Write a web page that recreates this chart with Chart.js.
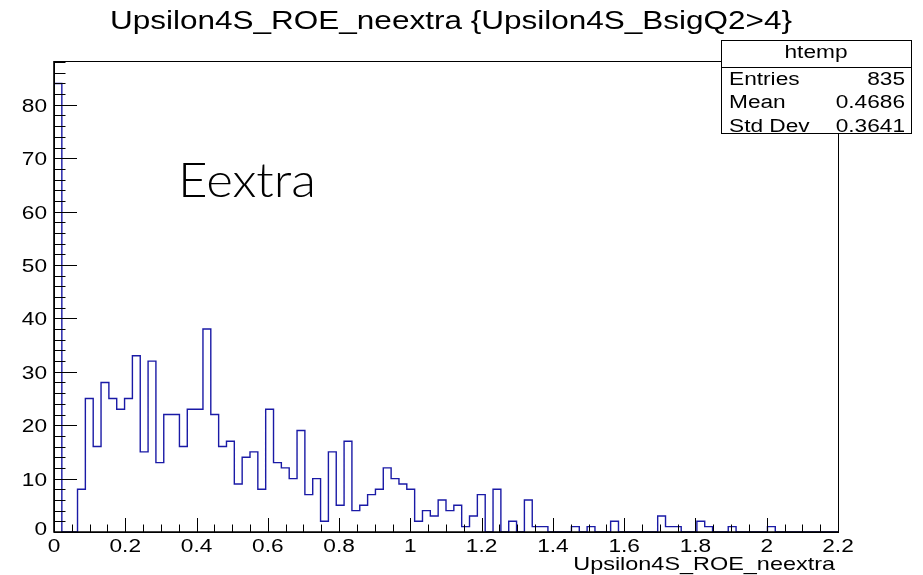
<!DOCTYPE html>
<html>
<head>
<meta charset="utf-8">
<title>Upsilon4S_ROE_neextra</title>
<script src="https://cdn.jsdelivr.net/npm/chart.js@4.4.0/dist/chart.umd.min.js"></script>
<style>
  html, body { margin: 0; padding: 0; background: #fff; }
  canvas { display: block; }
</style>
</head>
<body>
<canvas id="hist" width="923" height="575"></canvas>
<script>
// ---- histogram data (100 bins over [0, 2.2]) ----
const X_MIN = 0;
const X_MAX = 2.2;
const Y_MAX = 88.2;
const BIN_COUNTS = [
  84, 0, 0, 8, 25, 16, 28, 25, 23, 25,
  33, 15, 32, 13, 22, 22, 16, 23, 23, 38,
  22, 16, 17, 9, 14, 15, 8, 23, 13, 12,
  10, 19, 7, 10, 2, 15, 5, 17, 4, 5,
  7, 8, 12, 10, 9, 8, 2, 4, 3, 6,
  4, 5, 1, 3, 7, 0, 8, 0, 2, 0,
  6, 1, 1, 0, 0, 0, 1, 0, 1, 0,
  0, 2, 0, 0, 0, 0, 0, 3, 1, 1,
  0, 0, 2, 1, 0, 0, 1, 0, 0, 0,
  0, 1, 0, 0, 0, 0, 0, 0, 0, 0
];
const X_TICK_LABELS = ['0', '0.2', '0.4', '0.6', '0.8', '1', '1.2', '1.4', '1.6', '1.8', '2', '2.2'];
const Y_TICK_LABELS = ['0', '10', '20', '30', '40', '50', '60', '70', '80'];

const HIST_TITLE = 'Upsilon4S_ROE_neextra {Upsilon4S_BsigQ2>4}';
const X_TITLE = 'Upsilon4S_ROE_neextra';
const NOTE_TEXT = 'Eextra';
const STATS_NAME = 'htemp';
const STATS_ROWS = [
  ['Entries', '835'],
  ['Mean', '0.4686'],
  ['Std Dev', '0.3641']
];

// outline points at bin low edges, drawn as a step line
const binWidth = (X_MAX - X_MIN) / BIN_COUNTS.length;
const outline = [{ x: X_MIN, y: 0 }];
BIN_COUNTS.forEach((c, i) => outline.push({ x: X_MIN + i * binWidth, y: c }));
outline.push({ x: X_MAX, y: BIN_COUNTS[BIN_COUNTS.length - 1] });
outline.push({ x: X_MAX, y: 0 });

// ROOT style text is wider than plain Helvetica
const STRETCH = 1.26;
const FONT_FAMILY = '"Liberation Sans", Arial, Helvetica, sans-serif';

function wideText(ctx, txt, x, y, size, align, sx) {
  ctx.save();
  ctx.font = size + 'px ' + FONT_FAMILY;
  ctx.textAlign = align;
  ctx.textBaseline = 'alphabetic';
  ctx.fillStyle = '#000';
  ctx.translate(x, y);
  ctx.scale(sx || STRETCH, 1);
  ctx.fillText(txt, 0, 0);
  ctx.restore();
}

const rootFrame = {
  id: 'rootFrame',
  afterDraw(chart) {
    const { ctx, chartArea: a } = chart;
    const xs = chart.scales.x;
    const ys = chart.scales.y;

    ctx.save();
    ctx.strokeStyle = '#000';

    // frame
    ctx.lineWidth = 1;
    ctx.strokeRect(a.left + 0.5, a.top + 0.5, a.right - a.left, a.bottom - a.top);

    // axis lines
    ctx.lineWidth = 1.6;
    ctx.beginPath();
    ctx.moveTo(a.left, a.top);
    ctx.lineTo(a.left, a.bottom);
    ctx.lineTo(a.right, a.bottom);
    ctx.stroke();

    // y ticks, pointing inward
    ctx.lineWidth = 1;
    ctx.beginPath();
    for (let v = 0; v <= Y_MAX; v += 2) {
      const py = Math.round(ys.getPixelForValue(v)) + 0.5;
      const len = v % 10 === 0 ? 23 : 11.5;
      ctx.moveTo(a.left, py);
      ctx.lineTo(a.left + len, py);
    }
    // x ticks
    for (let k = 0; k <= 44; k++) {
      const px = Math.round(xs.getPixelForValue(k * 0.05)) + 0.5;
      const len = k % 4 === 0 ? 14 : 7.5;
      ctx.moveTo(px, a.bottom);
      ctx.lineTo(px, a.bottom - len);
    }
    ctx.stroke();
    ctx.restore();

    // tick labels
    X_TICK_LABELS.forEach(lbl => {
      wideText(ctx, lbl, xs.getPixelForValue(parseFloat(lbl)), a.bottom + 19.5, 18, 'center');
    });
    Y_TICK_LABELS.forEach(lbl => {
      const v = parseFloat(lbl);
      // ROOT lifts the zero label a little off the x axis
      const lift = v === 0 ? -4 : 0;
      wideText(ctx, lbl, a.left - 7, ys.getPixelForValue(v) + 7 + lift, 18, 'right');
    });

    // titles
    wideText(ctx, HIST_TITLE, 451, 29, 25, 'center');
    wideText(ctx, X_TITLE, 835, 570, 18.6, 'right');

    // free text inside the pad
    ctx.save();
    ctx.font = '300 48px Lato, Inter, "DejaVu Sans", sans-serif';
    ctx.fillStyle = '#000';
    const w = ctx.measureText(NOTE_TEXT).width;
    ctx.translate(178, 197);
    ctx.scale(138 / w, 1);
    ctx.fillText(NOTE_TEXT, 0, 0);
    ctx.restore();

    // stats box
    const bx = 721, by = 40, bw = 190, bh = 93, hdr = 27;
    ctx.save();
    ctx.fillStyle = '#fff';
    ctx.fillRect(bx, by, bw, bh);
    ctx.strokeStyle = '#000';
    ctx.lineWidth = 1;
    ctx.strokeRect(bx + 0.5, by + 0.5, bw, bh);
    ctx.beginPath();
    ctx.moveTo(bx, by + hdr + 0.5);
    ctx.lineTo(bx + bw, by + hdr + 0.5);
    ctx.stroke();
    ctx.restore();

    wideText(ctx, STATS_NAME, bx + 95, by + 18, 18, 'center');
    STATS_ROWS.forEach((row, i) => {
      const base = by + 44.5 + i * 23.5;
      wideText(ctx, row[0], bx + 8, base, 18, 'left');
      wideText(ctx, row[1], bx + 184, base, 18, 'right');
    });
  }
};

new Chart(document.getElementById('hist'), {
  type: 'line',
  data: {
    datasets: [{
      label: 'htemp',
      data: outline,
      stepped: true,
      borderColor: '#1a1aa6',
      borderWidth: 1.4,
      pointRadius: 0,
      fill: false
    }]
  },
  options: {
    responsive: false,
    animation: false,
    devicePixelRatio: 1,
    layout: { padding: { top: 61, right: 85, left: 0, bottom: 0 } },
    plugins: {
      legend: { display: false },
      tooltip: { enabled: false },
      title: { display: false }
    },
    scales: {
      x: {
        type: 'linear',
        min: X_MIN,
        max: X_MAX,
        ticks: { display: false },
        grid: { display: false },
        border: { display: false },
        afterFit: s => { s.height = 43; }
      },
      y: {
        min: 0,
        max: Y_MAX,
        ticks: { display: false },
        grid: { display: false },
        border: { display: false },
        afterFit: s => { s.width = 54; }
      }
    }
  },
  plugins: [rootFrame]
});
</script>
</body>
</html>
